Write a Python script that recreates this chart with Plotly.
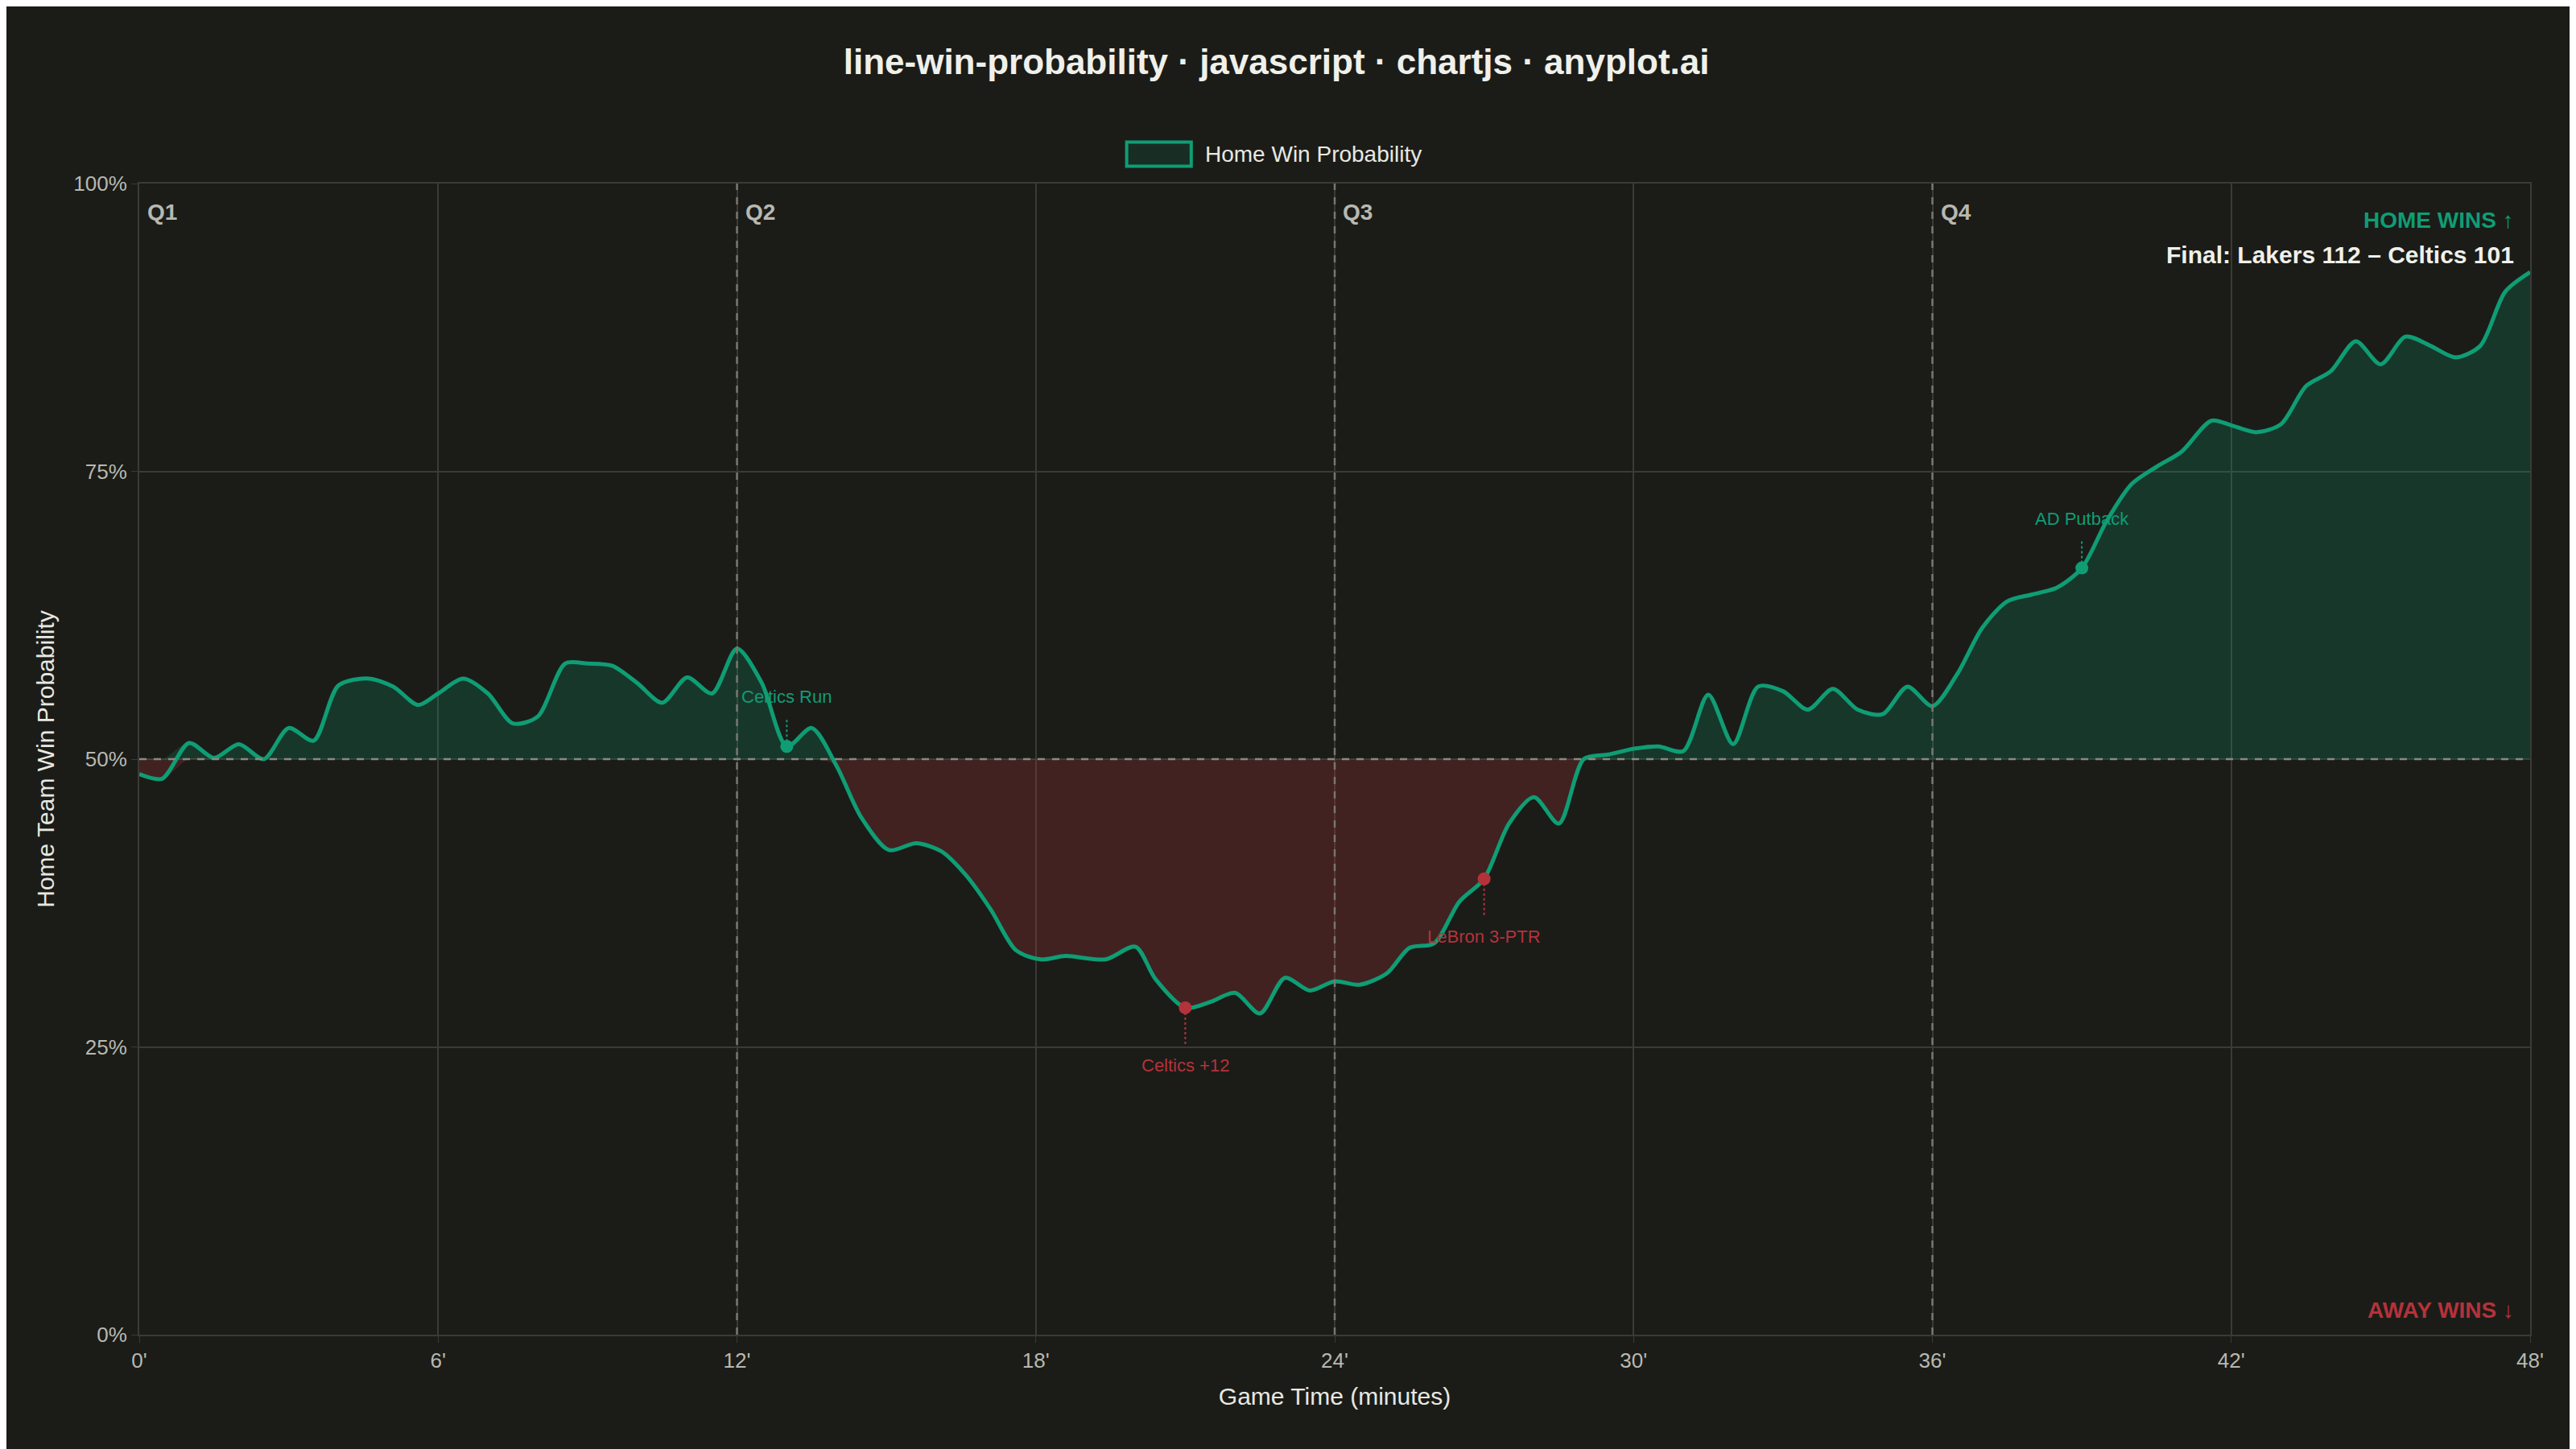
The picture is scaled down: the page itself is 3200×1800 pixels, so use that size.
import plotly.graph_objects as go

# game minute and home win probability (%)
minutes = [0, 0.46, 1.0, 1.5, 2.0, 2.5, 3.0, 3.5, 4.0, 4.6, 5.1, 5.6, 6.0, 6.5, 7.0, 7.5, 8.0,
           8.55, 9.0, 9.5, 10.0, 10.5, 11.0, 11.5, 12.0, 12.5, 13.0, 13.5, 14.0, 14.5, 15.05,
           15.6, 16.1, 16.6, 17.1, 17.6, 18.1, 18.6, 19.4, 20.0, 20.4, 21.0, 21.5, 22.0, 22.5,
           23.0, 23.5, 24.0, 24.5, 25.05, 25.5, 26.0, 26.5, 27.0, 27.5, 28.0, 28.5, 29.0, 29.5,
           30.0, 30.5, 31.0, 31.5, 32.0, 32.5, 33.0, 33.5, 34.0, 34.5, 35.0, 35.5, 36.0, 36.5,
           37.0, 37.5, 38.0, 38.5, 39.0, 39.5, 40.0, 40.5, 41.0, 41.6, 42.0, 42.5, 43.0, 43.5,
           44.0, 44.5, 45.0, 45.5, 46.0, 46.5, 47.0, 47.5, 48.0]
win_prob = [48.7, 48.3, 51.4, 50.1, 51.3, 50.0, 52.7, 51.6, 56.4, 57.0, 56.3, 54.7, 55.7, 57.0,
            55.7, 53.1, 53.7, 58.3, 58.3, 58.1, 56.6, 54.9, 57.1, 55.7, 59.6, 56.6, 51.1, 52.7,
            49.4, 44.9, 42.1, 42.7, 42.0, 39.9, 36.9, 33.4, 32.6, 32.9, 32.6, 33.7, 30.9, 28.4,
            28.9, 29.7, 27.9, 31.0, 29.9, 30.7, 30.4, 31.4, 33.6, 34.0, 37.6, 39.6, 44.4, 46.7,
            44.4, 50.0, 50.4, 50.9, 51.1, 50.7, 55.6, 51.3, 56.3, 55.9, 54.3, 56.1, 54.3, 53.9,
            56.3, 54.6, 57.4, 61.4, 63.7, 64.3, 64.9, 66.6, 70.7, 73.9, 75.4, 76.7, 79.4, 79.0,
            78.4, 79.1, 82.4, 83.7, 86.3, 84.3, 86.7, 85.9, 84.9, 85.9, 90.6, 92.3]

event_labels = ["Celtics Run", "Celtics +12", "LeBron 3-PTR", "AD Putback"]
event_minutes = [13.0, 21.0, 27.0, 39.0]
event_probs = [51.1, 28.4, 39.6, 66.6]
event_label_y = [55.4, 23.4, 34.6, 70.9]

quarter_labels = ["Q1", "Q2", "Q3", "Q4"]
quarter_starts = [0, 12, 24, 36]

BG = "#1b1c18"
GREEN = "#0f9d74"
RED = "#b5323a"
GRID = "#3a3b36"
TXT = "#b8b8b0"

fig = go.Figure()
base = [50] * len(minutes)
above = [max(v, 50) for v in win_prob]
below = [min(v, 50) for v in win_prob]

fig.add_trace(go.Scatter(x=minutes, y=base, mode="lines", line=dict(width=0), hoverinfo="skip", showlegend=False))
fig.add_trace(go.Scatter(x=minutes, y=above, mode="lines", line=dict(width=0, shape="spline"),
                         fill="tonexty", fillcolor="rgba(15,157,116,0.22)", hoverinfo="skip", showlegend=False))
fig.add_trace(go.Scatter(x=minutes, y=base, mode="lines", line=dict(width=0), hoverinfo="skip", showlegend=False))
fig.add_trace(go.Scatter(x=minutes, y=below, mode="lines", line=dict(width=0, shape="spline"),
                         fill="tonexty", fillcolor="rgba(181,50,58,0.25)", hoverinfo="skip", showlegend=False))
fig.add_trace(go.Scatter(x=minutes, y=win_prob, mode="lines", name="Home Win Probability",
                         line=dict(color=GREEN, width=5, shape="spline", smoothing=0.8), showlegend=False))

ev_colors = [GREEN if p >= 50 else RED for p in event_probs]
fig.add_trace(go.Scatter(x=event_minutes, y=event_probs, mode="markers",
                         marker=dict(color=ev_colors, size=16), showlegend=False))

shapes = []
for q in quarter_starts[1:]:
    shapes.append(dict(type="line", x0=q, x1=q, y0=0, y1=100, xref="x", yref="y",
                       line=dict(color="#77776f", width=2.5, dash="dash")))
shapes.append(dict(type="line", x0=0, x1=48, y0=50, y1=50, xref="x", yref="y",
                   line=dict(color="#8a8a82", width=2.5, dash="dash")))
for m, p, ly, c in zip(event_minutes, event_probs, event_label_y, ev_colors):
    y1 = ly - 1.8 if ly > p else ly + 1.8
    shapes.append(dict(type="line", x0=m, x1=m, y0=p, y1=y1, xref="x", yref="y",
                       line=dict(color=c, width=2, dash="dot")))
# legend box
shapes.append(dict(type="rect", xref="paper", yref="paper", x0=0.413, x1=0.440, y0=1.015, y1=1.036,
                   line=dict(color=GREEN, width=4), fillcolor="rgba(15,157,116,0.15)"))

annotations = []
for lab, q in zip(quarter_labels, quarter_starts):
    annotations.append(dict(x=q, y=97.5, xref="x", yref="y", text=f"<b>{lab}</b>", showarrow=False,
                            xanchor="left", xshift=8, font=dict(size=28, color=TXT)))
for lab, m, ly, c in zip(event_labels, event_minutes, event_label_y, ev_colors):
    annotations.append(dict(x=m, y=ly, xref="x", yref="y", text=lab, showarrow=False,
                            font=dict(size=22, color=c)))
annotations += [
    dict(x=0.994, y=0.968, xref="paper", yref="paper", yanchor="middle", text="<b>HOME WINS ↑</b>",
         showarrow=False, xanchor="right", font=dict(size=28, color=GREEN)),
    dict(x=0.994, y=0.938, xref="paper", yref="paper", yanchor="middle",
         text="<b>Final: Lakers 112 – Celtics 101</b>",
         showarrow=False, xanchor="right", font=dict(size=30, color="#f0f0ea")),
    dict(x=0.994, y=0.021, xref="paper", yref="paper", yanchor="middle", text="<b>AWAY WINS ↓</b>",
         showarrow=False, xanchor="right", font=dict(size=28, color=RED)),
    dict(x=0.445, y=1.0255, xref="paper", yref="paper", yanchor="middle", text="Home Win Probability",
         showarrow=False, xanchor="left", font=dict(size=28, color="#e8e8e2")),
]

fig.update_layout(
    width=3200, height=1800,
    paper_bgcolor=BG, plot_bgcolor=BG,
    font=dict(family="Liberation Sans, Arial, sans-serif", color=TXT),
    title=dict(text="<b>line-win-probability · javascript · chartjs · anyplot.ai</b>",
               x=0.493, xanchor="center", y=0.962, yanchor="middle", font=dict(size=44, color="#f0f0ea")),
    margin=dict(l=165, r=65, t=220, b=150),
    shapes=shapes, annotations=annotations, showlegend=False,
)
fig.update_xaxes(range=[0, 48], tickvals=list(range(0, 49, 6)),
                 ticktext=[f"{v}'" for v in range(0, 49, 6)], showgrid=True, gridcolor=GRID,
                 gridwidth=2, zeroline=False, showline=True, linecolor=GRID, linewidth=2, mirror=True,
                 tickfont=dict(size=26, color=TXT), ticks="outside", ticklen=8, tickcolor=GRID,
                 title=dict(text="Game Time (minutes)", font=dict(size=30, color="#e8e8e2"), standoff=20))
fig.update_yaxes(range=[0, 100], tickvals=[0, 25, 50, 75, 100],
                 ticktext=["0%", "25%", "50%", "75%", "100%"], showgrid=True, gridcolor=GRID,
                 gridwidth=2, zeroline=False, showline=True, linecolor=GRID, linewidth=2, mirror=True,
                 tickfont=dict(size=26, color=TXT), ticks="outside", ticklen=8, tickcolor=GRID,
                 title=dict(text="Home Team Win Probability", font=dict(size=30, color="#e8e8e2"), standoff=15))

fig.write_html("out.html")
